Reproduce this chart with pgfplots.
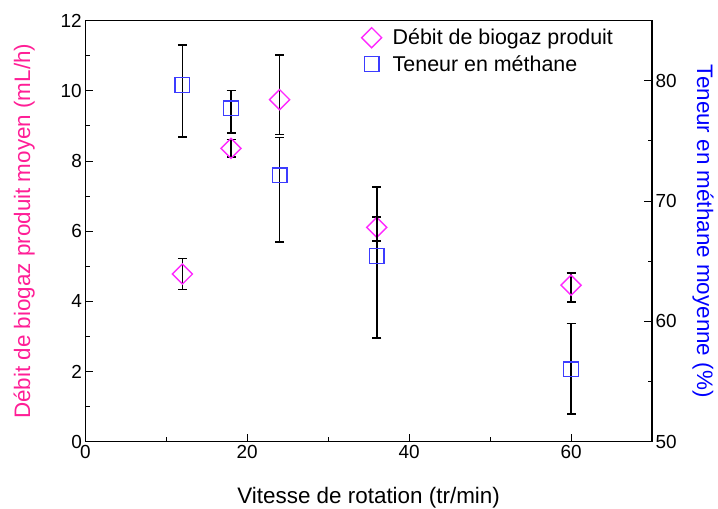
\documentclass[border=0pt]{standalone}
\usepackage{pgfplots}
\pgfplotsset{compat=1.18}
\usepackage{fontspec}
\setmainfont{Liberation Sans}

\definecolor{lpink}{RGB}{255,30,150}
\definecolor{dmag}{RGB}{255,40,255}
\definecolor{sqblue}{RGB}{60,60,255}
\definecolor{rblue}{RGB}{0,0,255}

\pgfplotsset{
  common/.style={
    width=566.7bp, height=421bp, scale only axis,
    xmin=0, xmax=70,
    tick align=inside,
    major tick length=8bp, minor tick length=4.5bp,
    every tick/.style={black, line width=1bp},
    /pgf/number format/assume math mode=true,
    tick label style={font=\fontsize{19}{22}\selectfont},
    axis line style={line width=1.2bp},
  },
  ebars/.style={
    error bars/.cd, y dir=both, y explicit,
    error bar style={black, line width=1.6bp},
    error mark options={rotate=90, black, mark size=4.5bp, line width=1.6bp},
  },
}

\begin{document}
\begin{tikzpicture}
  \path[use as bounding box] (-85.3bp,-67.3bp) rectangle (632.7bp,441.7bp);

  \begin{axis}[
    common,
    ymin=0, ymax=12,
    xtick={0,20,40,60}, minor x tick num=1,
    ytick={0,2,...,12}, minor y tick num=1,
    xtick pos=bottom, ytick pos=left,
    every axis x label/.style={at={([yshift=-56bp]axis description cs:0.5,0)}, anchor=center,
      font=\fontsize{22.5}{26}\selectfont},
    every axis y label/.style={at={([xshift=-61bp]axis description cs:0,0.5)}, anchor=center, rotate=90,
      font=\fontsize{22.5}{26}\selectfont},
    xlabel={Vitesse de rotation (tr/min)},
    ylabel={\color{lpink}Débit de biogaz produit moyen (mL/h)},
  ]
    \addplot[only marks, mark=square, mark size=7.1bp,
      mark options={rotate=45, draw=dmag, fill=white, line width=1.4bp},
      ebars]
      coordinates {
        (12,4.78) += (0,0.44) -= (0,0.44)
        (18,8.36) += (0,0.25) -= (0,0.25)
        (24,9.75) += (0,1.27) -= (0,0.99)
        (36,6.11) += (0,0.30) -= (0,0.39)
        (60,4.46) += (0,0.34) -= (0,0.47)
      };
  \end{axis}

  \begin{axis}[
    common,
    ymin=50, ymax=85,
    axis x line=none,
    axis y line*=right,
    ytick={50,60,70,80}, minor y tick num=1,
    every axis y label/.style={at={([xshift=51bp]axis description cs:1,0.5)}, anchor=center, rotate=-90,
      font=\fontsize{22.5}{26}\selectfont},
    ylabel={\color{rblue}Teneur en méthane moyenne (\%)},
    legend cell align=left,
    legend style={draw=none, fill=none, at={(axis description cs:0.482,0.99)}, anchor=north west,
      font=\fontsize{21.5}{24}\selectfont, row sep=5bp},
  ]
    \addlegendimage{only marks, mark=square, mark size=7.1bp, mark options={rotate=45, draw=dmag, fill=white, line width=1.4bp}}
    \addlegendentry{\hspace{9bp}Débit de biogaz produit}
    \addplot[only marks, mark=square, mark size=7.3bp,
      mark options={draw=sqblue, fill=white, line width=1.4bp},
      ebars]
      coordinates {
        (12,79.65) += (0,3.33) -= (0,4.33)
        (18,77.72) += (0,1.48) -= (0,2.07)
        (24,72.15) += (0,3.15) -= (0,5.55)
        (36,65.44) += (0,5.74) -= (0,6.84)
        (60,56.03) += (0,3.79) -= (0,3.73)
      };
    \addlegendentry{\hspace{9bp}Teneur en méthane}
  \end{axis}
\end{tikzpicture}
\end{document}
